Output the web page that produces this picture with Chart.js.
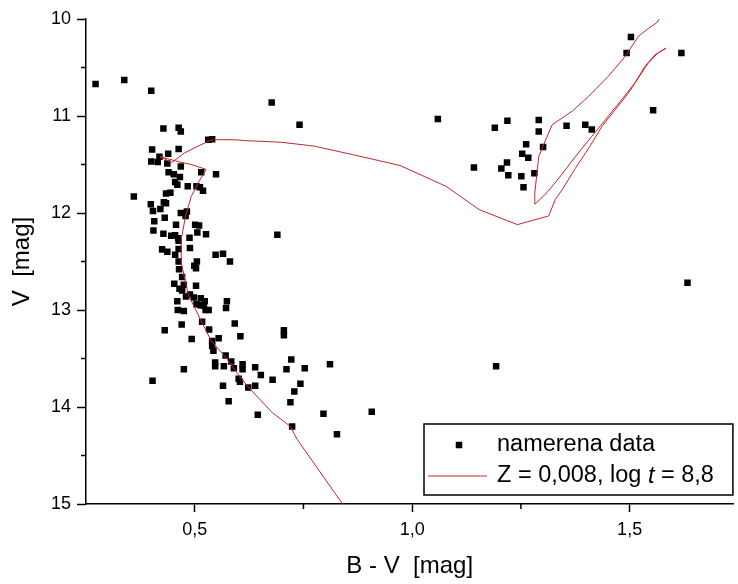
<!DOCTYPE html>
<html>
<head>
<meta charset="utf-8">
<script src="https://cdn.jsdelivr.net/npm/chart.js@4.4.0/dist/chart.umd.min.js"></script>
<style>
  html, body { margin: 0; padding: 0; background: #fff; }
  #wrap { width: 738px; height: 584px; }
</style>
</head>
<body>
<div id="wrap"><canvas id="chart" width="738" height="584"></canvas></div>
<script>
// measured stars: B-V colour and V magnitude
const obsBV = [
  0.272, 0.338, 0.400, 0.677, 0.428, 0.463, 0.468, 0.531, 0.540, 0.402,
  0.463, 0.419, 0.439, 0.400, 0.415, 0.437, 0.468, 0.515, 0.549, 0.440,
  0.452, 0.466, 0.455, 0.460, 0.484, 0.504, 0.512, 0.519, 0.360, 0.434,
  0.444, 0.399, 0.429, 0.434, 0.404, 0.421, 0.468, 0.482, 0.479, 0.431,
  0.407, 0.457, 0.501, 0.510, 0.506, 0.526, 0.690, 0.405, 0.428, 0.446,
  0.455, 0.462, 0.488, 0.463, 0.489, 0.463, 0.425, 0.437, 0.455, 0.548,
  0.565, 0.581, 0.463, 0.505, 0.499, 0.503, 0.464, 0.471, 0.453, 0.475,
  0.503, 0.465, 0.471, 0.480, 0.489, 0.498, 0.514, 0.523, 0.504, 0.513,
  0.521, 0.460, 0.525, 0.532, 0.461, 0.475, 0.574, 0.572, 0.592, 0.517,
  0.470, 0.533, 0.431, 0.493, 0.555, 0.540, 0.540, 0.543, 0.571, 0.605,
  0.705, 0.705, 0.584, 0.547, 0.547, 0.567, 0.590, 0.610, 0.610, 0.639,
  0.652, 0.679, 0.601, 0.604, 0.623, 0.639, 0.565, 0.578, 0.645, 0.722,
  0.711, 0.753, 0.743, 0.729, 0.720, 0.811, 0.796, 0.724, 0.827, 0.403,
  0.475, 0.907, 0.741, 1.059, 1.142, 1.219, 1.190, 1.291, 1.291, 1.355,
  1.398, 1.413, 1.301, 1.262, 1.253, 1.267, 1.218, 1.205, 1.221, 1.251,
  1.281, 1.256, 1.503, 1.493, 1.619, 1.554, 1.633, 1.193
];
const obsV = [
  10.67, 10.63, 10.74, 10.86, 11.13, 11.12, 11.16, 11.245, 11.24, 11.345,
  11.34, 11.42, 11.39, 11.47, 11.475, 11.49, 11.52, 11.58, 11.60, 11.58,
  11.60, 11.63, 11.68, 11.71, 11.725, 11.725, 11.735, 11.77, 11.83, 11.80,
  11.79, 11.91, 11.89, 11.90, 11.98, 11.96, 12.00, 11.985, 12.03, 12.05,
  12.085, 12.12, 12.12, 12.13, 12.20, 12.22, 12.225, 12.18, 12.215, 12.235,
  12.23, 12.26, 12.255, 12.285, 12.36, 12.37, 12.375, 12.40, 12.43, 12.43,
  12.42, 12.50, 12.50, 12.50, 12.545, 12.57, 12.58, 12.66, 12.73, 12.74,
  12.75, 12.78, 12.80, 12.86, 12.84, 12.87, 12.88, 12.91, 12.94, 12.95,
  12.955, 12.91, 13.00, 13.00, 13.00, 13.01, 12.91, 12.98, 13.14, 13.12,
  13.15, 13.20, 13.21, 13.30, 13.29, 13.32, 13.37, 13.42, 13.47, 13.27,
  13.21, 13.26, 13.53, 13.54, 13.58, 13.58, 13.60, 13.56, 13.61, 13.59,
  13.67, 13.72, 13.71, 13.74, 13.80, 13.78, 13.78, 13.94, 14.08, 13.51,
  13.61, 13.60, 13.76, 13.84, 13.95, 13.56, 14.07, 14.20, 14.28, 13.73,
  13.61, 14.05, 11.09, 11.03, 11.53, 11.05, 11.12, 11.04, 11.16, 11.10,
  11.09, 11.14, 11.32, 11.29, 11.39, 11.43, 11.48, 11.54, 11.61, 11.62,
  11.59, 11.735, 10.185, 10.35, 10.35, 10.94, 12.72, 13.58
];

// isochrone Z = 0.008, log t = 8.8 (in drawing order)
const isoBV = [
  0.840, 0.735, 0.720, 0.679, 0.622, 0.591, 0.568, 0.538, 0.508, 0.485,
  0.470, 0.469, 0.479, 0.492, 0.508, 0.526, 0.492, 0.462, 0.420, 0.447,
  0.477, 0.508, 0.534, 0.546, 0.591, 0.622, 0.698, 0.774, 0.865, 0.972,
  1.078, 1.154, 1.242, 1.314, 1.329, 1.345, 1.375, 1.409, 1.436, 1.466,
  1.497, 1.527, 1.542, 1.565, 1.584, 1.558, 1.535, 1.512, 1.482, 1.444,
  1.413, 1.375, 1.341, 1.310, 1.282, 1.282, 1.291, 1.307, 1.322, 1.368,
  1.405, 1.451, 1.489, 1.520, 1.542, 1.562, 1.568
];
const isoV = [
  15.00, 14.33, 14.20, 14.06, 13.79, 13.61, 13.47, 13.32, 13.05, 12.84,
  12.53, 12.27, 12.03, 11.83, 11.69, 11.55, 11.50, 11.47, 11.42, 11.48,
  11.38, 11.31, 11.255, 11.245, 11.245, 11.255, 11.27, 11.31, 11.40, 11.51,
  11.725, 11.965, 12.12, 12.03, 11.86, 11.76, 11.54, 11.31, 11.11, 10.94,
  10.765, 10.56, 10.46, 10.35, 10.30, 10.37, 10.49, 10.66, 10.83, 11.04,
  11.21, 11.42, 11.62, 11.79, 11.91, 11.79, 11.42, 11.245, 11.09, 10.95,
  10.80, 10.59, 10.39, 10.18, 10.10, 10.04, 10.00
];

const xMajor = [0.5, 1.0, 1.5];
const xMajorLabels = ['0,5', '1,0', '1,5'];
const xMinor = [0.75, 1.25];
const yMajor = [10, 11, 12, 13, 14, 15];
const yMinor = [10.5, 11.5, 12.5, 13.5, 14.5];

const FONT = "'Liberation Sans', Arial, sans-serif";
const LEGEND_FONT = '23.5px ' + FONT;

const minorTicks = {
  id: 'minorTicks',
  afterDraw(chart) {
    const { ctx, chartArea, scales } = chart;
    ctx.save();
    ctx.strokeStyle = '#000';
    ctx.lineWidth = 1.5;
    ctx.beginPath();
    xMinor.forEach(v => {
      const px = scales.x.getPixelForValue(v);
      ctx.moveTo(px, chartArea.bottom);
      ctx.lineTo(px, chartArea.bottom + 5);
    });
    yMinor.forEach(v => {
      const py = scales.y.getPixelForValue(v);
      ctx.moveTo(chartArea.left, py);
      ctx.lineTo(chartArea.left - 5, py);
    });
    ctx.stroke();
    ctx.restore();
  }
};

const boxLegend = {
  id: 'boxLegend',
  afterDraw(chart) {
    const { ctx, chartArea } = chart;
    const [pts, iso] = chart.data.datasets;
    const left = 424, top = 424, bottom = chartArea.bottom - 9, right = chartArea.right;
    ctx.save();
    ctx.fillStyle = '#fff';
    ctx.fillRect(left, top, right - left, bottom - top);
    ctx.strokeStyle = '#000';
    ctx.lineWidth = 1.5;
    ctx.strokeRect(left, top, right - left - 0.5, bottom - top);

    const row1 = top + 21, row2 = top + 52;
    ctx.fillStyle = pts.backgroundColor;
    ctx.fillRect(459 - 3.25, row1 - 3.25, 6.5, 6.5);

    ctx.strokeStyle = iso.borderColor;
    ctx.lineWidth = 1;
    ctx.beginPath();
    ctx.moveTo(428, row2);
    ctx.lineTo(487, row2);
    ctx.stroke();

    ctx.fillStyle = '#000';
    ctx.textBaseline = 'middle';
    ctx.font = LEGEND_FONT;
    ctx.fillText(pts.label, 497, row1);

    // italic t in the isochrone label
    const parts = iso.label.split(' t ');
    let x = 497;
    const first = parts[0] + ' ';
    ctx.fillText(first, x, row2);
    x += ctx.measureText(first).width;
    ctx.font = 'italic ' + LEGEND_FONT;
    ctx.fillText('t', x, row2);
    x += ctx.measureText('t').width;
    ctx.font = LEGEND_FONT;
    ctx.fillText(' ' + parts[1], x, row2);
    ctx.restore();
  }
};

new Chart(document.getElementById('chart'), {
  type: 'scatter',
  data: {
    datasets: [
      {
        label: 'namerena data',
        data: obsBV.map((bv, i) => ({ x: bv, y: obsV[i] })),
        pointStyle: 'rect',
        pointRadius: 4.6,
        pointHoverRadius: 4.6,
        backgroundColor: '#000',
        borderWidth: 0,
        order: 1
      },
      {
        label: 'Z = 0,008, log t = 8,8',
        data: isoBV.map((bv, i) => ({ x: bv, y: isoV[i] })),
        showLine: true,
        pointRadius: 0,
        borderColor: '#c0282d',
        borderWidth: 1,
        tension: 0,
        fill: false,
        order: 0
      }
    ]
  },
  options: {
    responsive: false,
    animation: false,
    devicePixelRatio: 1,
    layout: { padding: { top: 19, right: 0, bottom: 0, left: 0 } },
    plugins: {
      legend: { display: false },
      tooltip: { enabled: false }
    },
    scales: {
      x: {
        type: 'linear',
        position: 'bottom',
        min: 0.25,
        max: 1.7386,
        afterBuildTicks: s => { s.ticks = xMajor.map(v => ({ value: v })); },
        afterFit: s => { s.height = 80; },
        ticks: {
          callback: v => xMajorLabels[xMajor.indexOf(v)] ?? '',
          font: { family: FONT, size: 18 },
          color: '#000',
          padding: 7,
          maxRotation: 0,
          autoSkip: false
        },
        grid: { display: true, drawOnChartArea: false, tickLength: 8, tickColor: '#000', tickWidth: 1.5 },
        border: { display: true, color: '#000', width: 1.5 },
        title: {
          display: true,
          text: 'B - V  [mag]',
          font: { family: FONT, size: 24 },
          color: '#000',
          padding: { top: 0, bottom: 3 }
        }
      },
      y: {
        type: 'linear',
        reverse: true,
        min: 10,
        max: 15,
        afterBuildTicks: s => { s.ticks = yMajor.map(v => ({ value: v })); },
        afterFit: s => { s.width = 86; },
        ticks: {
          callback: v => String(v),
          font: { family: FONT, size: 18 },
          color: '#000',
          padding: 6
        },
        grid: { display: true, drawOnChartArea: false, tickLength: 9, tickColor: '#000', tickWidth: 1.5 },
        border: { display: true, color: '#000', width: 1.5 },
        title: {
          display: true,
          text: 'V  [mag]',
          font: { family: FONT, size: 24 },
          color: '#000',
          padding: { top: 8, bottom: 0 }
        }
      }
    }
  },
  plugins: [minorTicks, boxLegend]
});
</script>
</body>
</html>
